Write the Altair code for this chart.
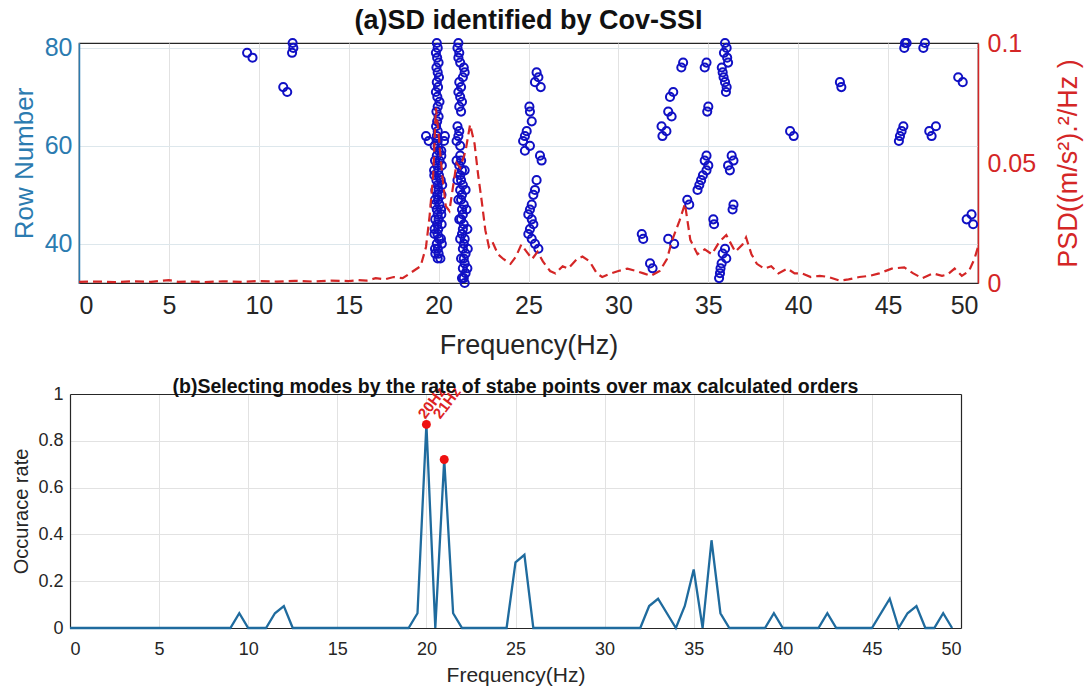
import altair as alt
import pandas as pd

# ---------------- data: stabilization diagram (top) ----------------
colA_rows = [81, 80, 79, 78, 77, 76, 75, 74, 73, 72, 71, 70, 69, 68, 67, 66, 65, 64, 63,
             62, 62, 62, 61, 61, 61,
             60, 59, 58, 57, 56, 55, 54, 53, 52, 51, 50, 49, 48, 47, 46, 45, 44, 43, 42, 41, 40, 39, 38, 37,
             58, 55, 52, 49, 46, 43, 40, 38,
             60, 59, 57, 56, 54, 53, 51, 50, 48, 47, 45, 44, 42, 41, 39, 37]
colA_freq = [19.90, 19.95, 19.85, 19.92, 20.00, 19.88, 19.95, 20.02, 19.90, 19.97, 19.85, 19.93, 20.05, 19.95, 19.88, 20.00, 19.92, 19.86, 19.95,
             19.30, 19.90, 20.35, 19.45, 19.95, 20.30,
             19.95, 20.00, 19.90, 20.05, 19.92, 19.98, 20.02, 19.88, 19.95, 20.00, 19.93, 19.97, 20.05, 19.90, 19.95, 20.00, 19.92, 19.98, 19.94, 20.02, 19.90, 19.96, 20.00, 19.95,
             20.15, 19.75, 20.20, 19.80, 20.15, 19.78, 20.18, 19.82,
             19.78, 20.15, 19.80, 20.18, 19.76, 20.12, 19.82, 20.16, 19.79, 20.14, 19.81, 20.17, 19.77, 20.13, 19.80, 20.10]

colB_rows = [81, 80, 79, 78, 77, 76, 75, 74, 73, 72, 71, 70, 69, 68, 67, 64, 63, 62, 61, 60,
             58, 57, 56, 55, 54, 53, 52, 51, 50, 49, 48, 47, 46, 45, 44, 43, 42, 41, 40, 39, 38, 37, 36, 35, 34, 33, 32,
             57, 55, 53, 51, 49, 47, 45, 43, 41, 39, 37, 35, 33]
colB_freq = [21.10, 21.05, 21.15, 21.10, 21.20, 21.40, 21.45, 21.35, 21.15, 21.25, 21.10, 21.20, 21.30, 21.15, 21.25, 21.05, 21.15, 21.10, 21.00, 21.20,
             21.20, 21.25, 21.15, 21.30, 21.20, 21.25, 21.35, 21.20, 21.30, 21.25, 21.40, 21.30, 21.35, 21.25, 21.40, 21.35, 21.30, 21.45, 21.40, 21.35, 21.50, 21.40, 21.45, 21.35, 21.50, 21.40, 21.45,
             21.00, 21.45, 21.05, 21.50, 21.10, 21.55, 21.15, 21.60, 21.20, 21.62, 21.25, 21.60, 21.30]

other_freq = [9.35, 9.65, 11.88, 11.92, 11.85, 11.36, 11.58,
              25.45, 25.55, 25.36, 25.68, 25.05, 25.08, 25.18, 24.90, 24.80, 24.70, 25.08, 24.80, 25.64, 25.73,
              25.45, 25.36, 25.27, 25.18, 25.08, 24.99, 25.18, 25.27, 25.08, 24.99, 25.18, 25.36, 25.55,
              33.60, 33.50, 33.05, 32.87, 32.77, 32.96, 32.40, 32.67, 32.45, 33.83, 33.94, 31.30, 31.38, 31.76, 31.90, 32.77, 33.10,
              34.90, 34.80, 35.93, 36.02, 35.87, 36.05, 36.10, 35.75, 35.80, 35.85, 35.93, 36.02, 35.98,
              35.00, 34.94, 34.90, 34.80, 35.00, 34.90, 34.70, 34.60, 34.50, 34.40,
              36.30, 36.40, 36.10, 36.20, 36.40, 36.35, 35.28, 35.32,
              35.93, 35.80, 36.00, 35.74, 35.68, 35.65, 35.60,
              39.55, 39.75, 42.32, 42.40, 45.94, 46.03, 45.90, 47.05, 46.96, 48.90, 49.15,
              45.85, 45.75, 45.66, 45.60, 47.29, 47.42, 47.66, 49.37, 49.64, 49.73]
other_rows = [79, 78, 81, 80, 79, 72, 71,
              75, 74, 73, 72, 68, 67, 65, 63, 62, 61, 60, 59, 58, 57,
              53, 51, 50, 48, 47, 46, 45, 44, 43, 42, 41, 40, 39,
              77, 76, 71, 70, 67, 66, 64, 63, 62, 49, 48, 42, 41, 36, 35, 41, 40,
              77, 76, 81, 80, 79, 78, 77, 76, 75, 74, 73, 72, 71,
              68, 67, 58, 57, 56, 55, 54, 53, 52, 51,
              58, 57, 56, 55, 48, 47, 45, 44,
              39, 38, 37, 36, 35, 34, 33,
              63, 62, 73, 72, 81, 81, 80, 81, 80, 74, 73,
              64, 63, 62, 61, 63, 62, 64, 45, 46, 44]

# ---------------- data: PSD (top, right axis) ----------------
psd_freq = [0, 1, 2, 3, 4, 5, 5.5, 6, 7, 8, 9, 10, 11, 12, 13, 14, 15, 15.5, 16, 16.5, 17, 17.5, 18,
            18.5, 19, 19.3, 19.5, 19.7, 19.85, 20.0, 20.2, 20.4, 20.6, 20.8, 21.0, 21.2, 21.5, 21.75,
            22.0, 22.2, 22.4, 22.6, 22.8, 23.0, 23.3, 23.6, 24.0, 24.3, 24.6, 24.9, 25.2, 25.5, 25.8,
            26.2, 26.5, 26.9, 27.2, 27.7, 28.0, 28.4, 28.8, 29.1, 29.6, 30.0, 30.5, 31.0, 31.4, 31.8,
            32.3, 32.7, 33.0, 33.4, 33.7, 34.0, 34.4, 34.8, 35.2, 35.6, 36.0, 36.5, 36.9, 37.1, 37.4,
            37.7, 38.1, 38.5, 38.9, 39.4, 39.8, 40.2, 40.7, 41.2, 41.7, 42.3, 42.8, 43.4, 44.0, 44.5,
            45.2, 45.9, 46.4, 46.9, 47.5, 48.0, 48.3, 48.7, 49.1, 49.5, 49.8, 50.0]
psd_val = [0.0005, 0.0006, 0.0004, 0.0007, 0.0005, 0.0012, 0.0005, 0.0006, 0.0004, 0.0007, 0.0005, 0.0008,
           0.0006, 0.0009, 0.0006, 0.0010, 0.0008, 0.0012, 0.0010, 0.0020, 0.0015, 0.0025, 0.0020,
           0.0045, 0.0070, 0.015, 0.028, 0.045, 0.073, 0.062, 0.045, 0.032, 0.030, 0.040, 0.050, 0.048, 0.055, 0.066,
           0.058, 0.045, 0.034, 0.022, 0.015, 0.017, 0.012, 0.010, 0.008, 0.011, 0.016, 0.013, 0.010, 0.013, 0.009,
           0.005, 0.004, 0.007, 0.006, 0.010, 0.011, 0.009, 0.004, 0.0025, 0.004, 0.005, 0.006, 0.005, 0.004, 0.003,
           0.005, 0.010, 0.018, 0.026, 0.033, 0.018, 0.012, 0.014, 0.012, 0.017, 0.020, 0.013, 0.016, 0.019, 0.012,
           0.008, 0.006, 0.007, 0.004, 0.006, 0.004, 0.004, 0.0025, 0.003, 0.0025, 0.001, 0.0015, 0.0025, 0.003, 0.004,
           0.006, 0.0065, 0.004, 0.002, 0.004, 0.003, 0.0035, 0.006, 0.003, 0.005, 0.010, 0.015]

# ---------------- data: occurrence rate (bottom) ----------------
rate_freq = [0, 9.0, 9.5, 10.0, 11.0, 11.5, 12.0, 12.5, 19.0, 19.5, 20.0, 20.5, 21.0, 21.5, 22.0,
             24.5, 25.0, 25.5, 26.0, 32.0, 32.5, 33.0, 34.0, 34.5, 35.0, 35.5, 36.0, 36.5, 37.0,
             39.0, 39.5, 40.0, 42.0, 42.5, 43.0, 45.0, 46.0, 46.5, 47.0, 47.5, 48.0, 48.5, 49.0, 49.5]
rate_val = [0, 0, 0.063, 0, 0, 0.063, 0.094, 0, 0, 0.063, 0.87, 0, 0.72, 0.063, 0,
            0, 0.281, 0.313, 0, 0, 0.094, 0.125, 0, 0.094, 0.25, 0, 0.375, 0.063, 0,
            0, 0.063, 0, 0, 0.063, 0, 0, 0.125, 0, 0.063, 0.094, 0, 0, 0.063, 0]

star_freq = [20, 21]
star_val = [0.87, 0.72]
label_text = ["20Hz", "21Hz"]
label_freq = [20.0, 20.85]
label_val = [0.875, 0.875]

x_ticks = [0, 5, 10, 15, 20, 25, 30, 35, 40, 45, 50]
row_ticks = [40, 60, 80]
psd_ticks = [0, 0.05, 0.1]
rate_ticks = [0, 0.2, 0.4, 0.6, 0.8, 1]

assert len(colA_rows) == len(colA_freq)
assert len(colB_rows) == len(colB_freq)
assert len(other_rows) == len(other_freq)
assert len(psd_freq) == len(psd_val)
assert len(rate_freq) == len(rate_val)

FONT = "Liberation Sans"
BLUE_AX = "#2b7bb0"
RED = "#d42626"
DARK = "#262626"
GRID = "#e2e2e2"

scatter_df = pd.DataFrame({"freq": colA_freq + colB_freq + other_freq,
                           "row": colA_rows + colB_rows + other_rows})
psd_df = pd.DataFrame({"freq": psd_freq, "psd": psd_val})
rate_df = pd.DataFrame({"freq": rate_freq, "rate": rate_val})
star_df = pd.DataFrame({"freq": star_freq, "rate": star_val})
label_df = pd.DataFrame({"freq": label_freq, "rate": label_val, "txt": label_text})

# ---------------- top panel ----------------
x_top = alt.X("freq:Q", scale=alt.Scale(domain=[0, 50], nice=False, zero=False),
              axis=alt.Axis(values=x_ticks, title="Frequency(Hz)", labelFontSize=25, titleFontSize=27,
                            titleFontWeight="normal", labelColor=DARK, titleColor=DARK,
                            domainColor=DARK, ticks=False, labelPadding=10, titlePadding=14,
                            grid=True, gridColor=GRID, labelFont=FONT, titleFont=FONT))

scatter = alt.Chart(scatter_df).mark_point(shape="circle", filled=False, size=66, strokeWidth=2,
                                           color="#1010c4", opacity=1).encode(
    x=x_top,
    y=alt.Y("row:Q", scale=alt.Scale(domain=[32, 81], nice=False, zero=False),
            axis=alt.Axis(values=row_ticks, title="Row Number", labelFontSize=25, titleFontSize=26,
                          titleFontWeight="normal", labelColor=BLUE_AX, titleColor=BLUE_AX,
                          domainColor=BLUE_AX, domainWidth=1.5, ticks=False, labelPadding=7,
                          titlePadding=7, grid=True, gridColor="#dde7ec",
                          labelFont=FONT, titleFont=FONT))
)

psd_line = alt.Chart(psd_df).mark_line(color=RED, strokeDash=[9, 5], strokeWidth=2.2).encode(
    x=alt.X("freq:Q", scale=alt.Scale(domain=[0, 50], nice=False, zero=False)),
    y=alt.Y("psd:Q", scale=alt.Scale(domain=[0, 0.1], nice=False, zero=False),
            axis=alt.Axis(orient="right", values=psd_ticks, format="~g",
                          title="PSD((m/s²).²/Hz )", labelFontSize=25, titleFontSize=27,
                          titleFontWeight="normal", labelColor=RED, titleColor=RED,
                          domainColor=RED, domainWidth=1.5, ticks=False, labelPadding=9,
                          titlePadding=20, titleAngle=270, titleBaseline="top", grid=False,
                          labelFont=FONT, titleFont=FONT))
)

top = alt.layer(scatter, psd_line).resolve_scale(y="independent").properties(
    width=899, height=240,
    view=alt.ViewBackground(stroke=DARK, strokeWidth=1.2),
    title=alt.TitleParams("(a)SD identified by Cov-SSI", fontSize=27, fontWeight="bold",
                          font=FONT, color="#111111", anchor="middle", offset=-4)
)

# ---------------- bottom panel ----------------
# the lower plot sits 9 px further left than the upper one: shift its x range and axes
SHIFT = 9
BW = 891
x_scale_b = alt.Scale(domain=[0, 50], nice=False, zero=False, range=[-SHIFT, BW - SHIFT])
y_scale_b = alt.Scale(domain=[0, 1], nice=False, zero=False)

x_bot = alt.X("freq:Q", scale=x_scale_b,
              axis=alt.Axis(values=x_ticks, title="Frequency(Hz)", labelFontSize=18, titleFontSize=21,
                            titleFontWeight="normal", labelColor=DARK, titleColor=DARK,
                            domainColor=DARK, domainWidth=1.2, ticks=False, labelPadding=12,
                            titlePadding=6, titleX=BW / 2 - SHIFT,
                            grid=True, gridColor=GRID, labelFont=FONT, titleFont=FONT))
y_bot = alt.Y("rate:Q", scale=y_scale_b,
              axis=alt.Axis(values=rate_ticks, format="~g", title="Occurace rate", labelFontSize=18,
                            titleFontSize=20, titleFontWeight="normal", labelColor=DARK,
                            titleColor=DARK, domainColor=DARK, domainWidth=1.2, ticks=False,
                            labelPadding=7, titlePadding=6, offset=SHIFT, grid=True,
                            gridColor=GRID, labelFont=FONT, titleFont=FONT))

rate_line = alt.Chart(rate_df).mark_line(color="#1f6b9e", strokeWidth=2.3).encode(x=x_bot, y=y_bot)
stars = alt.Chart(star_df).mark_point(shape="circle", filled=True, color="#ee1111", size=80,
                                      opacity=1).encode(
    x=alt.X("freq:Q", scale=x_scale_b,
            axis=alt.Axis(orient="top", labels=False, ticks=False, grid=False, title=None,
                          domainColor=DARK, domainWidth=1.2)),
    y=alt.Y("rate:Q", scale=y_scale_b,
            axis=alt.Axis(orient="right", labels=False, ticks=False, grid=False, title=None,
                          domainColor=DARK, domainWidth=1.2, offset=-SHIFT))
)
labels = alt.Chart(label_df).mark_text(angle=307, align="left", baseline="bottom", dx=2,
                                       color="#dd2222", fontSize=15, fontWeight="bold",
                                       font=FONT).encode(
    x=alt.X("freq:Q", scale=x_scale_b, axis=None),
    y=alt.Y("rate:Q", scale=y_scale_b, axis=None),
    text="txt:N")

bottom = alt.layer(rate_line, stars, labels).resolve_axis(x="independent", y="independent").properties(
    width=BW, height=234,
    view=alt.ViewBackground(stroke="transparent", strokeWidth=0),
    title=alt.TitleParams("(b)Selecting modes by the rate of stabe points over max calculated orders",
                          fontSize=19.5, fontWeight="bold", font=FONT, color="#111111",
                          anchor="middle", offset=-13, dx=-SHIFT)
)

chart = alt.ConcatChart(concat=[top, bottom], columns=1, spacing=18).properties(
    padding={"left": 10, "top": 6, "right": 1, "bottom": 1}
).configure(background="white")

chart.save("out.html", embed_options={"renderer": "svg", "actions": False})
